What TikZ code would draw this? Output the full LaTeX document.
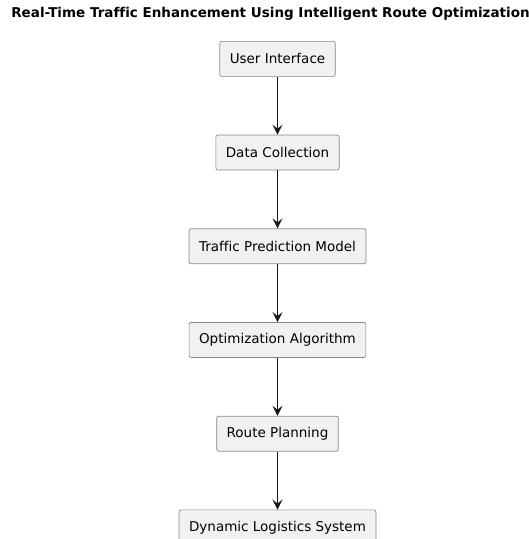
\documentclass[tikz,border=0pt]{standalone}
\usepackage{fontspec}
\setmainfont{DejaVu Sans}[Ligatures=NoCommon]
\usetikzlibrary{arrows.meta, positioning}
\definecolor{boxFill}{RGB}{241,241,241}
\definecolor{boxLine}{RGB}{136,136,136}
\definecolor{arrowInk}{RGB}{24,24,24}

\begin{document}
\begin{tikzpicture}[
  x=1pt, y=1pt,
  stage/.style={
    rectangle, rounded corners=2pt,
    draw=boxLine, fill=boxFill, line width=0.7pt,
    minimum height=35pt, inner xsep=10pt,
    font=\fontsize{13.5}{16}\selectfont, text=black
  },
  flow/.style={-{Stealth[length=10pt, width=10pt, inset=4pt]}, line width=0.9pt, arrowInk},
  node distance=58pt
]
  \useasboundingbox (0,0) rectangle (529,-539);

  \node[font=\bfseries\fontsize{13.5}{16}\selectfont] (title) at (270.5,-14)
    {Real-Time Traffic Enhancement Using Intelligent Route Optimization};

  \node[stage, anchor=north] (ui) at (277.5,-41) {User Interface};
  \node[stage, below=of ui] (data) {Data Collection};
  \node[stage, below=of data] (predict) {Traffic Prediction Model};
  \node[stage, below=of predict] (optim) {Optimization Algorithm};
  \node[stage, below=of optim] (route) {Route Planning};
  \node[stage, below=of route] (logistics) {Dynamic Logistics System};

  % Flow
  \foreach \a/\b in {ui/data, data/predict, predict/optim, optim/route, route/logistics}
    \draw[flow] (\a.south) -- (\b.north);
\end{tikzpicture}
\end{document}
